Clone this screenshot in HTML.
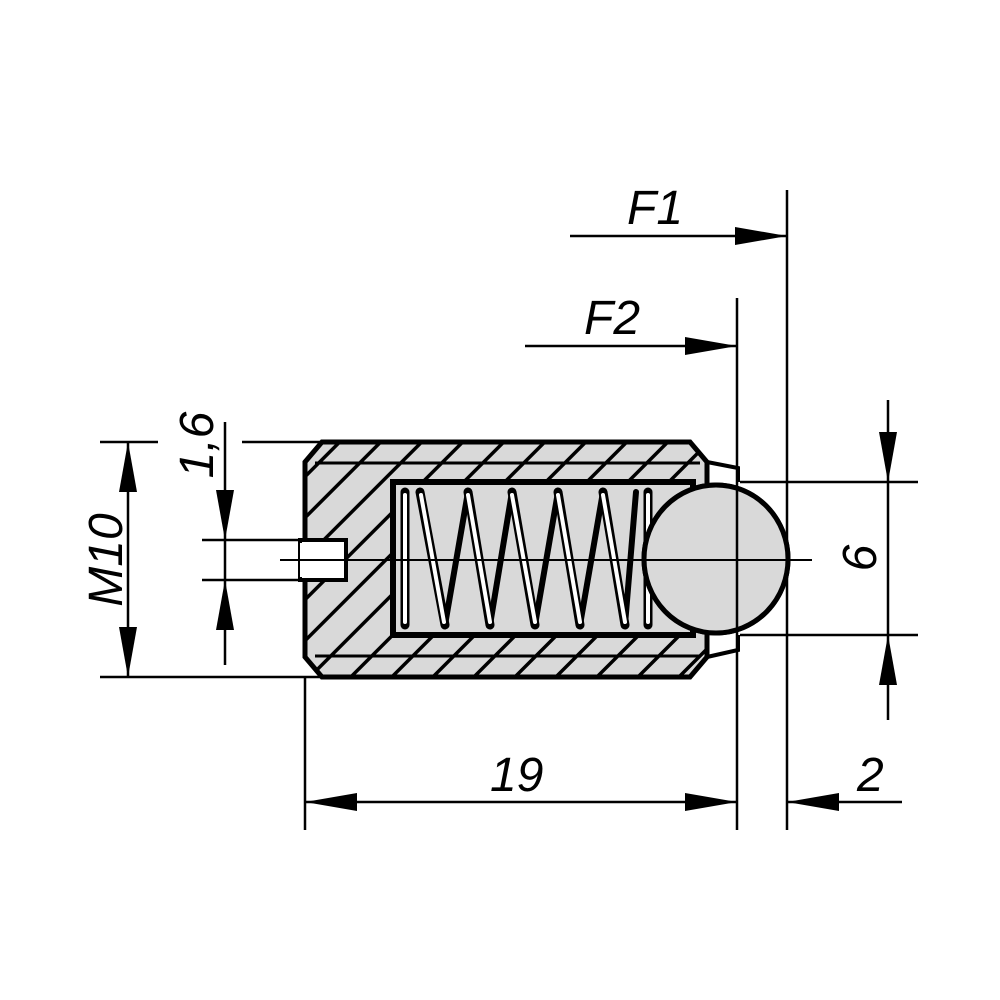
<!DOCTYPE html>
<html><head><meta charset="utf-8"><style>html,body{margin:0;padding:0;background:#fff}svg{display:block}</style></head>
<body>
<svg width="1000" height="1000" viewBox="0 0 1000 1000" xmlns="http://www.w3.org/2000/svg">
<defs>
<pattern id="hatch" patternUnits="userSpaceOnUse" width="29" height="29" patternTransform="rotate(45)">
<rect width="29" height="29" fill="#d9d9d9"/><rect x="0" y="0" width="3.5" height="29" fill="#000"/>
</pattern>
</defs>
<g stroke="#000" fill="none">
<path d="M305,462 L322,442 L690,442 L707,462 L707,657 L690,677 L322,677 L305,657 Z" fill="url(#hatch)" stroke-width="5"/>
<line x1="315" y1="463" x2="700" y2="463" stroke-width="3"/>
<line x1="315" y1="656" x2="700" y2="656" stroke-width="3"/>
<rect x="393" y="482" width="300" height="153" fill="#d9d9d9" stroke-width="6"/>
<rect x="300" y="540" width="46" height="40" fill="#fff" stroke-width="4"/>
<rect x="300" y="543" width="36" height="34" fill="#fff" stroke="none"/>
<path d="M707,462 L738,468 L738,482 M707,657 L738,650 L738,635" stroke-width="4"/>
<!-- spring back strands (black) -->
<g stroke-width="6" stroke-linecap="round">
<line x1="445" y1="625" x2="468" y2="492"/>
<line x1="490" y1="625" x2="512" y2="492"/>
<line x1="535" y1="625" x2="558" y2="492"/>
<line x1="580" y1="625" x2="603" y2="492"/>
<line x1="625" y1="625" x2="636" y2="492"/>
</g>
<!-- front strands: white with black outline -->
<g stroke-width="9" stroke-linecap="round">
<line x1="405" y1="492" x2="405" y2="625"/>
<line x1="420" y1="492" x2="445" y2="625"/>
<line x1="468" y1="492" x2="490" y2="625"/>
<line x1="512" y1="492" x2="535" y2="625"/>
<line x1="558" y1="492" x2="580" y2="625"/>
<line x1="603" y1="492" x2="625" y2="625"/>
<line x1="648" y1="492" x2="648" y2="625"/>
</g>
<g stroke="#fff" stroke-width="4" stroke-linecap="round">
<line x1="405" y1="495" x2="405" y2="622"/>
<line x1="421" y1="495" x2="444" y2="622"/>
<line x1="468" y1="495" x2="490" y2="622"/>
<line x1="512" y1="495" x2="535" y2="622"/>
<line x1="558" y1="495" x2="580" y2="622"/>
<line x1="603" y1="495" x2="625" y2="622"/>
<line x1="648" y1="495" x2="648" y2="622"/>
</g>
<!-- ball -->
<path d="M690,490 A72,74 0 0 0 690,628 A72,74 0 1 0 690,490 Z" fill="#d9d9d9" stroke-width="5"/>
<ellipse cx="716" cy="559" rx="72" ry="74" fill="#d9d9d9" stroke-width="5"/>
<line x1="280" y1="560" x2="812" y2="560" stroke-width="2"/>
<g stroke-width="2.5">
<line x1="787" y1="190" x2="787" y2="830"/>
<line x1="737" y1="298" x2="737" y2="830"/>
<line x1="570" y1="236" x2="787" y2="236"/>
<line x1="525" y1="346" x2="737" y2="346"/>
<line x1="100" y1="442" x2="158" y2="442"/>
<line x1="242" y1="442" x2="320" y2="442"/>
<line x1="100" y1="677" x2="320" y2="677"/>
<line x1="128" y1="442" x2="128" y2="677"/>
<line x1="225" y1="422" x2="225" y2="665"/>
<line x1="202" y1="540" x2="305" y2="540"/>
<line x1="202" y1="580" x2="305" y2="580"/>
<line x1="305" y1="677" x2="305" y2="830"/>
<line x1="305" y1="802" x2="737" y2="802"/>
<line x1="787" y1="802" x2="902" y2="802"/>
<line x1="740" y1="482" x2="918" y2="482"/>
<line x1="740" y1="635" x2="918" y2="635"/>
<line x1="888" y1="400" x2="888" y2="720"/>
</g>
</g>
<g fill="#000">
<polygon points="787,236 735,227 735,245"/>
<polygon points="737,346 685,337 685,355"/>
<polygon points="128,442 119,492 137,492"/>
<polygon points="128,677 119,627 137,627"/>
<polygon points="225,540 216,490 234,490"/>
<polygon points="225,580 216,630 234,630"/>
<polygon points="305,802 357,793 357,811"/>
<polygon points="737,802 685,793 685,811"/>
<polygon points="787,802 839,793 839,811"/>
<polygon points="888,482 879,432 897,432"/>
<polygon points="888,635 879,685 897,685"/>
</g>
<g font-family="Liberation Sans, sans-serif" font-style="italic" font-size="48" fill="#000">
<text x="627" y="224">F1</text>
<text x="584" y="334">F2</text>
<text x="490" y="791">19</text>
<text x="857" y="791">2</text>
<text transform="translate(122,560) rotate(-90)" text-anchor="middle">M10</text>
<text transform="translate(213,445) rotate(-90)" text-anchor="middle">1,6</text>
<text transform="translate(876,558) rotate(-90)" text-anchor="middle">6</text>
</g>
</svg>
</body></html>
